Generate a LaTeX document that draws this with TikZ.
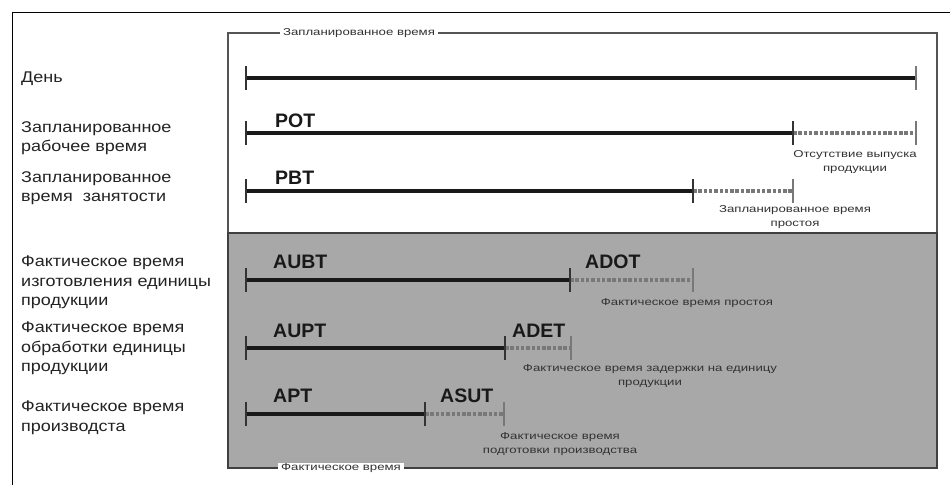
\documentclass[tikz,border=0pt]{standalone}
\usepackage{fontspec}
\setmainfont{Liberation Sans}
\newfontfamily\lblfont[FakeStretch=1.16]{Liberation Sans}
\newfontfamily\smfont[FakeStretch=1.32]{Liberation Sans}
\definecolor{bggray}{RGB}{168,168,168}
\definecolor{framegray}{RGB}{85,85,85}
\definecolor{dashgray}{RGB}{120,120,120}
\definecolor{txtdark}{RGB}{35,35,35}
\definecolor{smtxt}{RGB}{50,50,50}
\tikzset{
  rowlabel/.style={anchor=north west, align=left, inner sep=0pt, text=txtdark,
    font=\lblfont\fontsize{15.5}{19.5}\selectfont},
  codelabel/.style={anchor=base west, inner sep=0pt, text=black!90,
    font=\bfseries\fontsize{19.5}{19.5}\selectfont},
  smlabel/.style={anchor=center, align=center, inner sep=0pt, text=smtxt,
    font=\smfont\fontsize{10}{14.5}\selectfont},
  borderlabel/.style={anchor=center, inner xsep=3pt, inner ysep=1pt, fill=white, text=smtxt,
    font=\smfont\fontsize{10}{12}\selectfont},
  solidseg/.style={line width=3.2pt, black!90},
  dashseg/.style={line width=3.6pt, dashgray, dash pattern=on 3.5pt off 1.8pt},
  darktick/.style={line width=1.3pt, black!80},
  greytick/.style={line width=1.3pt, dashgray},
}
\begin{document}
\begin{tikzpicture}[x=1pt,y=-1pt]
\useasboundingbox (0,0) rectangle (950,485);
\fill[white] (0,0) rectangle (950,485);

% outer frame
\coordinate (ofb) at (12,485);
\coordinate (oftl) at (12,12);
\coordinate (oftr) at (950,12);
\draw[line width=1pt, black] (ofb) -- (oftl) -- (oftr);

% inner box
\coordinate (ibtl) at (228,33);
\coordinate (ibmr) at (937,233);
\coordinate (ibml) at (228,233);
\coordinate (ibbr) at (937,468);
\fill[bggray] (ibml) rectangle (ibbr);
\draw[line width=1.2pt, framegray] (ibtl) rectangle (ibmr);
\draw[line width=1.4pt, black!75] (ibml) rectangle (ibbr);

\node[borderlabel] (plannedtime) at (359,33) {Запланированное время};
\node[borderlabel] (actualtime) at (341,468) {Фактическое время};

% row labels
\node[rowlabel] (lday) at (21,72) {День};
\node[rowlabel] (lpot) at (21,121) {Запланированное\\рабочее время};
\node[rowlabel] (lpbt) at (21,171) {Запланированное\\время\ \ занятости};
\node[rowlabel] (laubt) at (21,256) {Фактическое время\\изготовления единицы\\продукции};
\node[rowlabel] (laupt) at (21,322) {Фактическое время\\обработки единицы\\продукции};
\node[rowlabel] (lapt) at (21,401) {Фактическое время\\производста};

% coordinates of the bars
\coordinate (d0) at (246,78);  \coordinate (d1) at (916,78);
\coordinate (p0) at (246,133); \coordinate (p1) at (793,133); \coordinate (p2) at (916,133);
\coordinate (b0) at (246,191); \coordinate (b1) at (693,191); \coordinate (b2) at (793,191);
\coordinate (u0) at (246,280); \coordinate (u1) at (570,280); \coordinate (u2) at (693,280);
\coordinate (r0) at (246,348); \coordinate (r1) at (505,348); \coordinate (r2) at (571,348);
\coordinate (a0) at (246,414); \coordinate (a1) at (425,414); \coordinate (a2) at (504,414);

% bars
\draw[solidseg] (d0) -- (d1);
\draw[solidseg] (p0) -- (p1); \draw[dashseg] (p1) -- (p2);
\draw[solidseg] (b0) -- (b1); \draw[dashseg] (b1) -- (b2);
\draw[solidseg] (u0) -- (u1); \draw[dashseg] (u1) -- (u2);
\draw[solidseg] (r0) -- (r1); \draw[dashseg] (r1) -- (r2);
\draw[solidseg] (a0) -- (a1); \draw[dashseg] (a1) -- (a2);

% ticks
\foreach \c in {d0,p0,b0,u0,r0,a0,p1,b1,u1,r1,a1}
  \draw[darktick] (\c) ++(0,-12) -- ++(0,24);
\foreach \c in {d1,p2,b2,u2,r2,a2}
  \draw[greytick] (\c) ++(0,-12) -- ++(0,24);

% code labels
\node[codelabel] (pot) at (275,127) {POT};
\node[codelabel] (pbt) at (275,184) {PBT};
\node[codelabel] (aubt) at (273,268) {AUBT};
\node[codelabel] (adot) at (585,268) {ADOT};
\node[codelabel] (aupt) at (273,337) {AUPT};
\node[codelabel] (adet) at (512,337) {ADET};
\node[codelabel] (apt) at (273,402) {APT};
\node[codelabel] (asut) at (440,402) {ASUT};

% small labels
\node[smlabel] (sno) at (855,162) {Отсутствие выпуска\\продукции};
\node[smlabel] (spd) at (795,217) {Запланированное время\\простоя};
\node[smlabel] (sad) at (687,303) {Фактическое время простоя};
\node[smlabel] (sde) at (650,376) {Фактическое время задержки на единицу\\продукции};
\node[smlabel] (ssu) at (560,444) {Фактическое время\\подготовки производства};
\end{tikzpicture}
\end{document}
